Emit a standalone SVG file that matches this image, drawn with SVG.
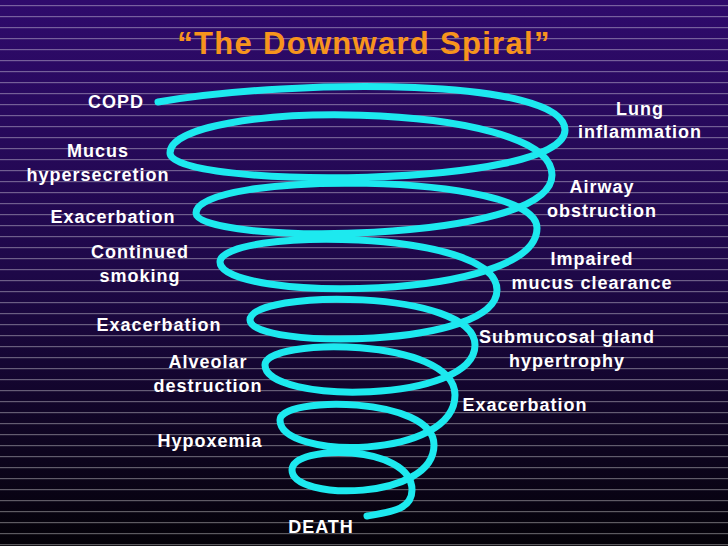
<svg xmlns="http://www.w3.org/2000/svg" width="728" height="546" viewBox="0 0 728 546">
<defs>
<linearGradient id="bg" x1="0" y1="0" x2="0" y2="1">
<stop offset="0" stop-color="#2f0a6c"/><stop offset="0.5" stop-color="#1e0848"/><stop offset="1" stop-color="#040208"/>
</linearGradient>
<pattern id="lines" width="728" height="11" patternUnits="userSpaceOnUse" y="5">
<rect x="0" y="0" width="728" height="1.2" fill="#ffffff" fill-opacity="0.35"/>
</pattern>
</defs>
<style>
.t{font-family:"Liberation Sans",Arial,sans-serif;font-weight:bold;font-size:18px;letter-spacing:1px;fill:#ffffff;text-anchor:middle}
.sp{fill:none;stroke:#1de9ef;stroke-width:7;stroke-linecap:round;stroke-linejoin:round}
</style>
<rect width="728" height="546" fill="url(#bg)"/>
<rect width="728" height="546" fill="url(#lines)"/>
<text x="364" y="54" style="font-family:'Liberation Sans',Arial,sans-serif;font-weight:bold;font-size:31px;letter-spacing:1.3px;fill:#f7941d;text-anchor:middle">“The Downward Spiral”</text>
<g id="connectors">
<path class="sp" d="M158,102 C300,78 565,78 565,130 C565,189 170,189 170,153 C170,99 552,99 552,175 C552,245 196,245 196,213 C196,171 537,171 537,228 C537,302 220,302 220,262 C220,228 497,228 497,290 C497,349 250,349 250,320 C250,289 475,289 475,345 C475,404 265,404 265,365 C265,337 455,337 455,395 C455,460 280,460 280,420 C280,396 434,396 434,445 C434,501 292,501 292,470 C292,444 412,444 412,490 C412,510 390,512 367,516"/>
</g>
<g id="n-copd"><text class="t" x="116" y="108">COPD</text></g>
<g id="n-lung"><text class="t" x="640" y="115">Lung</text><text class="t" x="640" y="138">inflammation</text></g>
<g id="n-mucus"><text class="t" x="98" y="157">Mucus</text><text class="t" x="98" y="181">hypersecretion</text></g>
<g id="n-airway"><text class="t" x="602" y="193">Airway</text><text class="t" x="602" y="217">obstruction</text></g>
<g id="n-exac1"><text class="t" x="113" y="223">Exacerbation</text></g>
<g id="n-smoking"><text class="t" x="140" y="258">Continued</text><text class="t" x="140" y="282">smoking</text></g>
<g id="n-impaired"><text class="t" x="592" y="265">Impaired</text><text class="t" x="592" y="289">mucus clearance</text></g>
<g id="n-exac2"><text class="t" x="159" y="331">Exacerbation</text></g>
<g id="n-gland"><text class="t" x="567" y="343">Submucosal gland</text><text class="t" x="567" y="367">hypertrophy</text></g>
<g id="n-alveolar"><text class="t" x="208" y="368">Alveolar</text><text class="t" x="208" y="392">destruction</text></g>
<g id="n-exac3"><text class="t" x="525" y="411">Exacerbation</text></g>
<g id="n-hypox"><text class="t" x="210" y="447">Hypoxemia</text></g>
<g id="n-death"><text class="t" x="321" y="533">DEATH</text></g>
</svg>
